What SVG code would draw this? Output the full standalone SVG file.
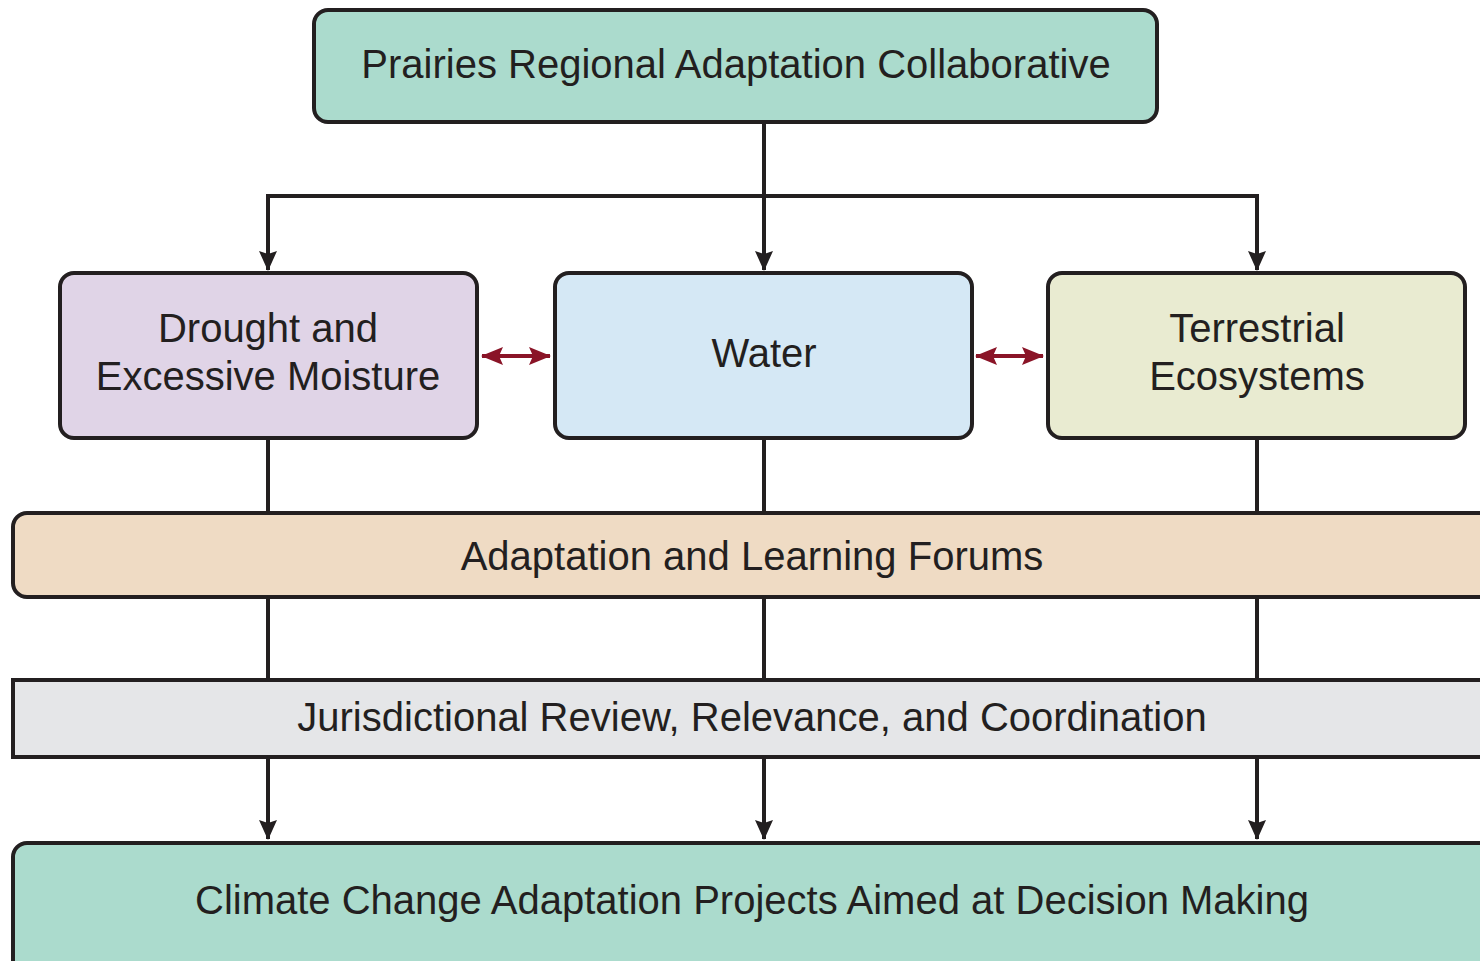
<svg xmlns="http://www.w3.org/2000/svg" width="1480" height="961" viewBox="0 0 1480 961">
  <defs>
    <marker id="arrowDown" viewBox="0 0 20 18" refX="19" refY="9" markerWidth="20" markerHeight="18" markerUnits="userSpaceOnUse" orient="auto-start-reverse">
      <path d="M0,0 L20,9 L0,18 L3,9 Z" fill="#231f20"/>
    </marker>
    <marker id="arrowRed" viewBox="0 0 22 18" refX="21" refY="9" markerWidth="22" markerHeight="18" markerUnits="userSpaceOnUse" orient="auto-start-reverse">
      <path d="M0,0 L22,9 L0,18 L4,9 Z" fill="#8a1427"/>
    </marker>
    <style>
      .box { stroke: #231f20; stroke-width: 4; }
      .label { font-family: "Liberation Sans", Arial, sans-serif; font-size: 40px; fill: #231f20; text-anchor: middle; }
      .line { stroke: #231f20; stroke-width: 4; fill: none; }
      .link { stroke: #8a1427; stroke-width: 4; fill: none; }
    </style>
  </defs>

  <rect width="1480" height="961" fill="#ffffff"/>

  <!-- connectors -->
  <g id="connectors">
    <path class="line" d="M764,123 V270" marker-end="url(#arrowDown)"/>
    <path class="line" d="M268,270 V196 H1257 V270" marker-start="url(#arrowDown)" marker-end="url(#arrowDown)"/>
    <path class="line" d="M268,439 V839" marker-end="url(#arrowDown)"/>
    <path class="line" d="M764,439 V839" marker-end="url(#arrowDown)"/>
    <path class="line" d="M1257,439 V839" marker-end="url(#arrowDown)"/>
    <path class="link" d="M482,356 H550" marker-start="url(#arrowRed)" marker-end="url(#arrowRed)"/>
    <path class="link" d="M976,356 H1043" marker-start="url(#arrowRed)" marker-end="url(#arrowRed)"/>
  </g>

  <g id="prarc">
    <rect class="box" x="314" y="10" width="843" height="112" rx="14" fill="#abdbcd"/>
    <text class="label" x="736" y="78">Prairies Regional Adaptation Collaborative</text>
  </g>

  <g id="drought">
    <rect class="box" x="60" y="273" width="417" height="165" rx="14" fill="#e0d4e7"/>
    <text class="label" x="268" y="342">Drought and</text>
    <text class="label" x="268" y="390">Excessive Moisture</text>
  </g>

  <g id="water">
    <rect class="box" x="555" y="273" width="417" height="165" rx="14" fill="#d5e8f5"/>
    <text class="label" x="764" y="367">Water</text>
  </g>

  <g id="terrestrial">
    <rect class="box" x="1048" y="273" width="417" height="165" rx="14" fill="#e9ebd1"/>
    <text class="label" x="1257" y="342">Terrestrial</text>
    <text class="label" x="1257" y="390">Ecosystems</text>
  </g>

  <g id="forums">
    <rect class="box" x="13" y="513" width="1490" height="84" rx="14" fill="#efdbc4"/>
    <text class="label" x="752" y="570">Adaptation and Learning Forums</text>
  </g>

  <g id="jurisdictional">
    <rect class="box" x="13" y="680" width="1490" height="77" fill="#e5e6e8"/>
    <text class="label" x="752" y="731">Jurisdictional Review, Relevance, and Coordination</text>
  </g>

  <g id="projects">
    <rect class="box" x="13" y="843" width="1490" height="140" rx="14" fill="#abdbcd"/>
    <text class="label" x="752" y="914">Climate Change Adaptation Projects Aimed at Decision Making</text>
  </g>
</svg>
